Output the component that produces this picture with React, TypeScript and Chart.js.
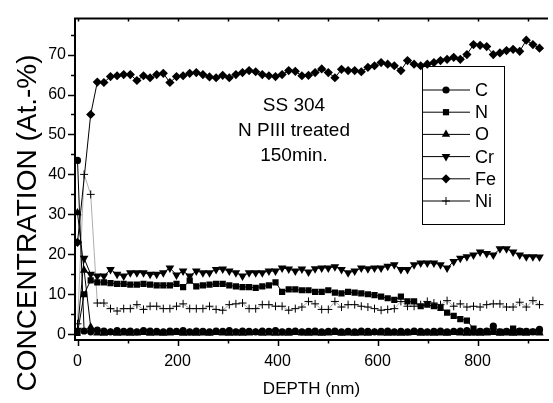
import React, { useEffect, useRef } from "react";
import { Chart, registerables } from "chart.js";

Chart.register(...registerables);

const depths = [0, 13.2, 26.4, 39.6, 52.8, 66, 79.2, 92.4, 105.6, 118.8, 132, 145.2, 158.4, 171.6, 184.8, 198, 211.2, 224.4, 237.6, 250.8, 264, 277.2, 290.4, 303.6, 316.8, 330, 343.2, 356.4, 369.6, 382.8, 396, 409.2, 422.4, 435.6, 448.8, 462, 475.2, 488.4, 501.6, 514.8, 528, 541.2, 554.4, 567.6, 580.8, 594, 607.2, 620.4, 633.6, 646.8, 660, 673.2, 686.4, 699.6, 712.8, 726, 739.2, 752.4, 765.6, 778.8, 792, 805.2, 818.4, 831.6, 844.8, 858, 871.2, 884.4, 897.6, 910.8, 924];

const cValues = [43.5, 0.8, 0.6, 1.0, 0.8, 0.6, 0.9, 0.7, 0.8, 0.6, 0.9, 0.8, 0.7, 0.6, 0.8, 0.7, 0.9, 0.6, 0.8, 0.7, 0.6, 0.8, 0.7, 0.9, 0.6, 0.8, 0.7, 0.6, 0.8, 0.7, 0.9, 0.6, 0.7, 0.8, 0.6, 0.7, 0.8, 0.6, 0.7, 0.8, 0.6, 0.7, 0.6, 0.8, 0.7, 0.6, 0.7, 0.8, 0.6, 0.7, 0.6, 0.8, 0.7, 0.6, 0.7, 0.8, 0.6, 0.7, 0.8, 0.9, 0.6, 0.7, 0.8, 2.0, 0.6, 0.7, 0.6, 0.8, 0.7, 0.6, 1.2];

const nValues = [0.3, 10, 13.5, 13.0, 13.0, 12.8, 12.6, 12.6, 12.4, 12.4, 12.6, 12.4, 12.2, 12.2, 12.2, 12.6, 11.8, 13.4, 12.0, 12.2, 12.4, 12.6, 12.6, 12.2, 12.0, 11.8, 11.8, 11.6, 12.0, 12.2, 13.0, 10.6, 11.2, 11.2, 11.0, 11.0, 10.6, 10.6, 11.0, 10.4, 10.2, 10.6, 10.4, 10.2, 10.0, 9.8, 9.4, 9.0, 8.6, 9.4, 8.2, 8.2, 7.0, 7.4, 7.0, 6.6, 5.4, 4.6, 3.8, 3.4, 1.4, 0.6, 0.6, 0.8, 0.6, 0.6, 1.4, 0.8, 0.6, 0.6, 0.6];

const oValues = [30.4, 16, 1.8, 0.3, 0.2, 0.4, 0.2, 0.3, 0.2, 0.3, 0.4, 0.2, 0.3, 0.2, 0.3, 0.4, 0.2, 0.3, 0.2, 0.3, 0.2, 0.4, 0.3, 0.2, 0.3, 0.2, 0.3, 0.4, 0.2, 0.3, 0.2, 0.3, 0.2, 0.4, 0.3, 0.2, 0.3, 0.2, 0.3, 0.4, 0.2, 0.3, 0.2, 0.3, 0.2, 0.4, 0.3, 0.2, 0.3, 0.2, 0.3, 0.4, 0.2, 0.3, 0.2, 0.3, 0.2, 0.4, 0.3, 0.2, 0.3, 0.2, 0.3, 0.4, 0.2, 0.3, 0.2, 0.3, 0.2, 0.4, 0.3];

const crValues = [1.0, 19, 15, 14.6, 14.6, 16.2, 15.0, 14.6, 15.4, 15.4, 15.4, 15.0, 15.0, 15.4, 16.6, 14.8, 15.8, 14.6, 15.8, 15.4, 15.4, 16.2, 16.3, 15.8, 15.4, 14.6, 15.4, 15.4, 15.4, 15.8, 15.8, 16.6, 16.3, 15.8, 16.3, 15.6, 16.4, 16.6, 16.6, 16.9, 16.2, 15.4, 15.8, 16.6, 16.4, 16.6, 16.6, 17.0, 17.4, 16.2, 16.2, 17.4, 17.8, 17.8, 17.8, 17.4, 16.6, 18.2, 19.0, 19.4, 19.8, 20.6, 20.2, 19.8, 21.4, 21.4, 20.6, 19.8, 19.4, 19.4, 19.3];

const feValues = [23, null, 55, 63.1, 63.0, 64.5, 64.7, 65.0, 65.0, 63.5, 64.7, 64.2, 65.0, 65.3, 63.0, 64.5, 64.7, 65.3, 65.5, 65.0, 64.4, 64.2, 64.8, 64.2, 65.0, 65.5, 66.0, 65.7, 65.0, 64.7, 64.5, 65.0, 66.0, 65.8, 64.7, 64.8, 65.5, 66.4, 65.5, 64.2, 66.3, 66.0, 66.0, 65.7, 66.8, 67.2, 68.0, 67.6, 67.2, 66.0, 68.5, 67.6, 67.2, 67.6, 68.0, 68.5, 68.8, 69.3, 68.8, 70.0, 72.5, 72.3, 72.0, 70.0, 70.4, 71.0, 71.3, 70.8, 73.6, 72.5, 71.6];

const niValues = [2.6, 40, 35, 7.8, 7.8, 6.4, 5.8, 6.4, 6.4, 7.4, 6.2, 7.0, 7.0, 6.4, 6.4, 7.0, 7.6, 6.4, 6.4, 6.4, 7.0, 6.2, 6.0, 7.4, 7.6, 7.8, 6.4, 6.4, 7.4, 7.4, 7.0, 7.0, 6.0, 6.4, 6.8, 8.2, 7.6, 6.2, 6.2, 8.2, 6.8, 7.4, 7.4, 7.0, 6.8, 6.4, 6.0, 6.2, 6.4, 8.2, 7.0, 7.0, 7.4, 8.2, 7.8, 7.4, 8.4, 7.0, 7.6, 6.8, 7.0, 6.8, 7.4, 7.6, 7.6, 6.8, 6.8, 8.0, 6.8, 8.4, 7.4];

const xTicks = [0, 200, 400, 600, 800];
const yTicks = [0, 10, 20, 30, 40, 50, 60, 70];
const xMinorTicks = [100, 300, 500, 700, 900];
const yMinorTicks = [5, 15, 25, 35, 45, 55, 65, 75];
const topTicks = [0, 100, 200, 300, 400, 500, 600, 700, 800, 900];

const xTitle = "DEPTH (nm)";
const yTitle = "CONCENTRATION (At.-%)";
const annotationLines = ["SS 304", "N PIII treated", "150min."];

const FONT = '"Liberation Sans", Arial, Helvetica, sans-serif';

type Series = { name: string; values: (number | null)[]; style: string; radius: number; rotation: number; lineWidth: number; lineColor: string };

const seriesList: Series[] = [
  { name: "C", values: cValues, style: "circle", radius: 3.6, rotation: 0, lineWidth: 1, lineColor: "#000" },
  { name: "N", values: nValues, style: "rect", radius: 4.4, rotation: 0, lineWidth: 1, lineColor: "#000" },
  { name: "O", values: oValues, style: "triangle", radius: 4.8, rotation: 0, lineWidth: 1, lineColor: "#000" },
  { name: "Cr", values: crValues, style: "triangle", radius: 5, rotation: 180, lineWidth: 1, lineColor: "#000" },
  { name: "Fe", values: feValues, style: "rectRot", radius: 4.6, rotation: 0, lineWidth: 1, lineColor: "#000" },
  { name: "Ni", values: niValues, style: "cross", radius: 4, rotation: 0, lineWidth: 0.6, lineColor: "#777" },
];

function drawMarker(ctx: CanvasRenderingContext2D, s: Series, x: number, y: number) {
  const r = s.radius;
  ctx.beginPath();
  if (s.style === "circle") {
    ctx.arc(x, y, r, 0, Math.PI * 2);
    ctx.fill();
  } else if (s.style === "rect") {
    const h = r * Math.SQRT1_2;
    ctx.rect(x - h, y - h, 2 * h, 2 * h);
    ctx.fill();
  } else if (s.style === "rectRot") {
    ctx.moveTo(x, y - r);
    ctx.lineTo(x + r, y);
    ctx.lineTo(x, y + r);
    ctx.lineTo(x - r, y);
    ctx.closePath();
    ctx.fill();
  } else if (s.style === "triangle") {
    let rad = (s.rotation * Math.PI) / 180;
    ctx.moveTo(x + Math.sin(rad) * r, y - Math.cos(rad) * r);
    rad += (2 * Math.PI) / 3;
    ctx.lineTo(x + Math.sin(rad) * r, y - Math.cos(rad) * r);
    rad += (2 * Math.PI) / 3;
    ctx.lineTo(x + Math.sin(rad) * r, y - Math.cos(rad) * r);
    ctx.closePath();
    ctx.fill();
  } else if (s.style === "cross") {
    ctx.moveTo(x - r, y);
    ctx.lineTo(x + r, y);
    ctx.moveTo(x, y - r);
    ctx.lineTo(x, y + r);
    ctx.stroke();
  }
}

const decorPlugin = {
  id: "decor",
  afterDraw(chart: any) {
    const { ctx, chartArea: a, scales } = chart;
    const xs = scales.x;
    const ys = scales.y;
    ctx.save();
    ctx.strokeStyle = "#000";
    ctx.fillStyle = "#000";

    ctx.lineWidth = 2;
    ctx.beginPath();
    ctx.moveTo(a.left - 1, a.top);
    ctx.lineTo(a.right, a.top);
    ctx.stroke();

    ctx.lineWidth = 1.5;
    ctx.beginPath();
    yTicks.forEach((v) => {
      const y = Math.round(ys.getPixelForValue(v)) + 0.5;
      ctx.moveTo(a.left - 7, y);
      ctx.lineTo(a.left, y);
    });
    yMinorTicks.forEach((v) => {
      const y = Math.round(ys.getPixelForValue(v)) + 0.5;
      ctx.moveTo(a.left - 4, y);
      ctx.lineTo(a.left, y);
    });
    xTicks.forEach((v) => {
      const x = Math.round(xs.getPixelForValue(v)) + 0.5;
      ctx.moveTo(x, a.bottom);
      ctx.lineTo(x, a.bottom + 6);
    });
    xMinorTicks.forEach((v) => {
      const x = Math.round(xs.getPixelForValue(v)) + 0.5;
      ctx.moveTo(x, a.bottom);
      ctx.lineTo(x, a.bottom + 3.5);
    });
    topTicks.forEach((v) => {
      const x = Math.round(xs.getPixelForValue(v)) + 0.5;
      ctx.moveTo(x, a.top);
      ctx.lineTo(x, a.top + 3);
    });
    ctx.stroke();

    ctx.textAlign = "center";
    ctx.textBaseline = "middle";
    ctx.font = `17px ${FONT}`;
    ctx.fillText(xTitle, (a.left + a.right) / 2, 389);
    ctx.save();
    ctx.translate(28, 223);
    ctx.rotate(-Math.PI / 2);
    ctx.font = `28px ${FONT}`;
    ctx.fillText(yTitle, 0, 0);
    ctx.restore();

    ctx.font = `19px ${FONT}`;
    annotationLines.forEach((t, i) => {
      ctx.fillText(t, 294, 106 + i * 25);
    });

    const bx = 422, by = 66, bw = 82, bh = 158;
    ctx.lineWidth = 1;
    ctx.strokeRect(bx + 0.5, by + 0.5, bw, bh);
    ctx.font = `18px ${FONT}`;
    ctx.textAlign = "left";
    seriesList.forEach((s, i) => {
      const y = 90 + i * 22.2;
      ctx.strokeStyle = "#000";
      ctx.lineWidth = 1;
      ctx.beginPath();
      ctx.moveTo(bx, y);
      ctx.lineTo(bx + 48, y);
      ctx.stroke();
      drawMarker(ctx, s, bx + 24, y);
      ctx.fillText(s.name, bx + 53, y + 1);
    });
    ctx.restore();
  },
};

export default function App() {
  const ref = useRef<HTMLCanvasElement>(null);
  useEffect(() => {
    if (!ref.current) return;
    const datasets = seriesList.map((s) => ({
      label: s.name,
      data: depths.map((d, i) => ({ x: d, y: s.values[i] })),
      showLine: true,
      spanGaps: true,
      borderColor: s.lineColor,
      backgroundColor: "#000",
      borderWidth: s.lineWidth,
      pointStyle: s.style,
      pointRadius: s.radius,
      pointRotation: s.rotation,
      pointBorderWidth: s.style === "cross" ? 1 : 0,
      pointBorderColor: "#000",
      pointBackgroundColor: "#000",
      tension: 0,
    }));
    const chart = new Chart(ref.current, {
      type: "scatter",
      data: { datasets },
      options: {
        responsive: false,
        animation: false,
        devicePixelRatio: 1,
        layout: { padding: { top: 6, right: 5, left: 0, bottom: 0 } },
        plugins: { legend: { display: false }, tooltip: { enabled: false } },
        scales: {
          x: {
            type: "linear",
            min: -5,
            max: 941,
            afterFit: (s: any) => { s.height = 63; },
            afterBuildTicks: (s: any) => { s.ticks = xTicks.map((v) => ({ value: v })); },
            grid: { display: false, drawTicks: false },
            border: { display: true, color: "#000", width: 2 },
            ticks: { color: "#000", font: { family: FONT, size: 16 }, padding: 12, maxRotation: 0, autoSkip: false },
          },
          y: {
            type: "linear",
            min: -1.45,
            max: 79,
            afterFit: (s: any) => { s.width = 75; },
            afterBuildTicks: (s: any) => { s.ticks = yTicks.map((v) => ({ value: v })); },
            grid: { display: false, drawTicks: false },
            border: { display: true, color: "#000", width: 2 },
            ticks: { color: "#000", font: { family: FONT, size: 16 }, padding: 9, autoSkip: false },
          },
        },
      } as any,
      plugins: [decorPlugin],
    });
    return () => chart.destroy();
  }, []);
  return (
    <div style={{ position: "absolute", left: 0, top: 0, width: 553, height: 403, background: "#fff" }}>
      <canvas ref={ref} width={553} height={403} />
    </div>
  );
}
